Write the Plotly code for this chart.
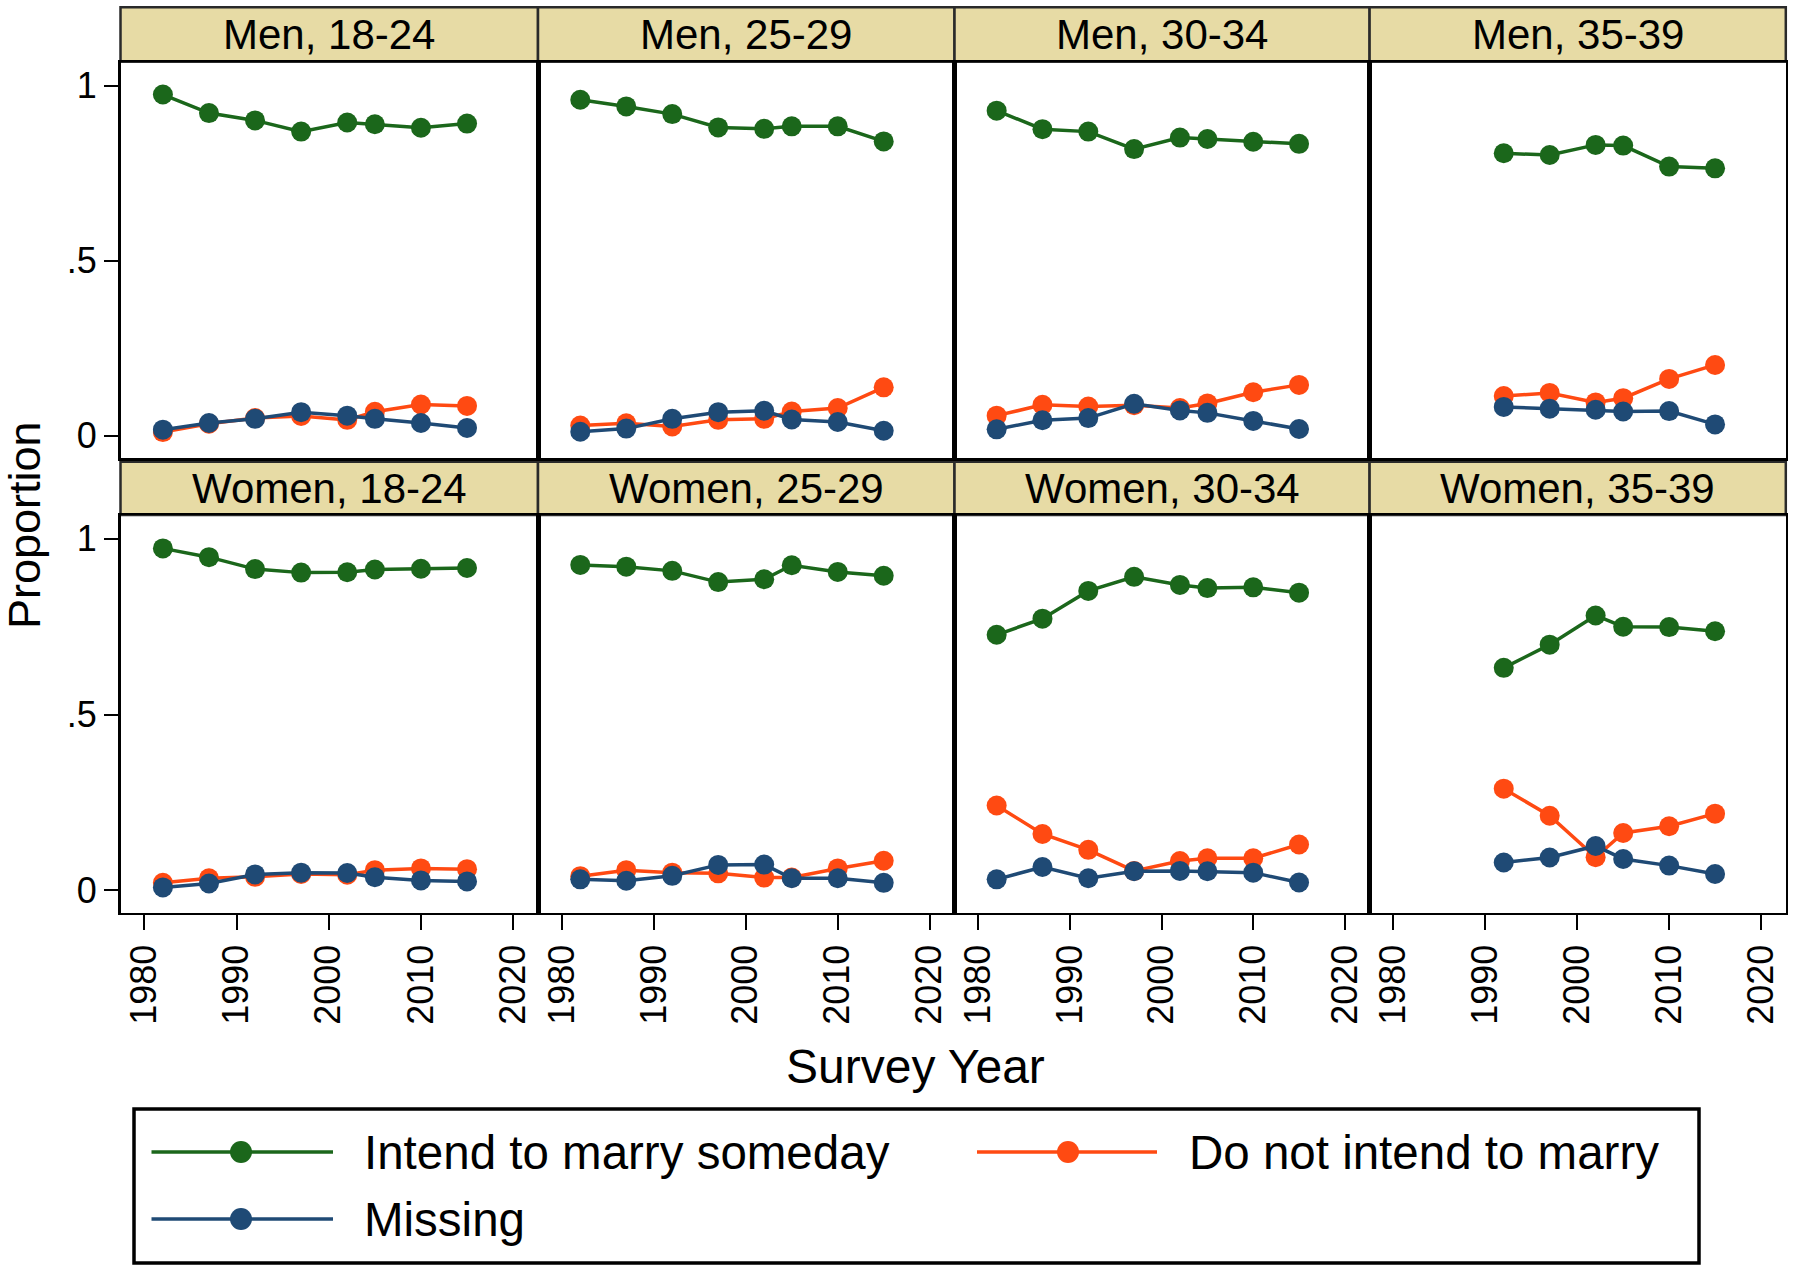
import plotly.graph_objects as go

W, H = 1800, 1270
FONT = "Liberation Sans, Arial, Helvetica, sans-serif"

years = [1982, 1987, 1992, 1997, 2002, 2005, 2010, 2015]
panel_titles = ["Men, 18-24", "Men, 25-29", "Men, 30-34", "Men, 35-39",
                "Women, 18-24", "Women, 25-29", "Women, 30-34", "Women, 35-39"]
series_names = ["Intend to marry someday", "Do not intend to marry", "Missing"]
series_colors = ["#1B671B", "#FF4A12", "#1F4A75"]

intend = [
    [0.975, 0.922, 0.901, 0.869, 0.895, 0.890, 0.880, 0.892],
    [0.960, 0.941, 0.919, 0.881, 0.877, 0.884, 0.884, 0.841],
    [0.929, 0.876, 0.869, 0.819, 0.852, 0.848, 0.840, 0.834],
    [None, None, 0.807, 0.802, 0.831, 0.829, 0.769, 0.764],
    [0.973, 0.948, 0.914, 0.904, 0.905, 0.913, 0.915, 0.917],
    [0.926, 0.921, 0.909, 0.877, 0.885, 0.925, 0.906, 0.895],
    [0.727, 0.773, 0.852, 0.892, 0.869, 0.860, 0.862, 0.847],
    [None, None, 0.633, 0.699, 0.782, 0.750, 0.749, 0.737],
]
not_intend = [
    [0.010, 0.034, 0.050, 0.056, 0.045, 0.068, 0.089, 0.085],
    [0.029, 0.035, 0.026, 0.045, 0.048, 0.069, 0.079, 0.138],
    [0.057, 0.088, 0.083, 0.087, 0.079, 0.092, 0.124, 0.145],
    [None, None, 0.113, 0.122, 0.095, 0.107, 0.162, 0.202],
    [0.021, 0.034, 0.038, 0.046, 0.044, 0.057, 0.062, 0.060],
    [0.040, 0.057, 0.050, 0.048, 0.036, 0.036, 0.062, 0.084],
    [0.241, 0.160, 0.115, 0.055, 0.083, 0.091, 0.091, 0.130],
    [None, None, 0.289, 0.212, 0.094, 0.163, 0.182, 0.218],
]
missing = [
    [0.017, 0.036, 0.048, 0.067, 0.057, 0.048, 0.036, 0.022],
    [0.011, 0.020, 0.048, 0.067, 0.071, 0.046, 0.039, 0.014],
    [0.018, 0.044, 0.050, 0.091, 0.072, 0.065, 0.042, 0.019],
    [None, None, 0.082, 0.077, 0.074, 0.069, 0.070, 0.032],
    [0.008, 0.019, 0.045, 0.050, 0.049, 0.037, 0.028, 0.025],
    [0.031, 0.027, 0.041, 0.072, 0.073, 0.034, 0.034, 0.021],
    [0.031, 0.066, 0.034, 0.054, 0.055, 0.054, 0.050, 0.022],
    [None, None, 0.079, 0.093, 0.126, 0.089, 0.070, 0.046],
]
x_ticks = [1980, 1990, 2000, 2010, 2020]
y_ticks = [0, 0.5, 1]
y_ticktext = ["0", ".5", "1"]

# ---- layout geometry (pixels) ----
col_px = [(120.5, 538.0), (538.0, 954.5), (954.5, 1369.6), (1369.6, 1785.8)]
row_plot_px = [(62.0, 458.0), (515.0, 912.7)]
row_strip_px = [(7.3, 61.7), (461.7, 515.0)]
XR = [1977.4, 2022.7]
YR = [-0.064, 1.068]

def fx(px):
    return px / W

def fy(py):
    return 1 - py / H

fig = go.Figure()
shapes = []
annotations = []
layout = {}

all_series = [intend, not_intend, missing]

for p in range(8):
    r, c = divmod(p, 4)
    idx = p + 1
    xa = "x" if idx == 1 else f"x{idx}"
    ya = "y" if idx == 1 else f"y{idx}"
    for s in range(3):
        fig.add_trace(go.Scatter(
            x=years, y=all_series[s][p], xaxis=xa, yaxis=ya,
            mode="lines+markers", name=series_names[s], showlegend=False,
            line=dict(color=series_colors[s], width=3.5),
            marker=dict(color=series_colors[s], size=20, line=dict(width=0)),
            connectgaps=False, cliponaxis=False,
        ))
    x0, x1 = col_px[c]
    y0, y1 = row_plot_px[r]
    xkey = "xaxis" if idx == 1 else f"xaxis{idx}"
    ykey = "yaxis" if idx == 1 else f"yaxis{idx}"
    bottom = (r == 1)
    left = (c == 0)
    layout[xkey] = dict(
        domain=[fx(x0), fx(x1)], range=XR, anchor=ya,
        showgrid=False, zeroline=False, showline=True, mirror=True,
        linecolor="black", linewidth=2.5,
        tickmode="array", tickvals=x_ticks if bottom else [],
        ticks="outside" if bottom else "", ticklen=15, tickwidth=2, tickcolor="black",
        tickangle=-90, showticklabels=bottom,
        tickfont=dict(family=FONT, size=36, color="black"),
    )
    layout[ykey] = dict(
        domain=[fy(y1), fy(y0)], range=YR, anchor=xa,
        showgrid=False, zeroline=False, showline=True, mirror=True,
        linecolor="black", linewidth=2.5,
        tickmode="array", tickvals=y_ticks if left else [], ticktext=y_ticktext,
        ticks="outside" if left else "", ticklen=14, tickwidth=2, tickcolor="black",
        showticklabels=left,
        tickfont=dict(family=FONT, size=36, color="black"),
    )
    # strip
    sy0, sy1 = row_strip_px[r]
    shapes.append(dict(type="rect", xref="paper", yref="paper",
                       x0=fx(x0), x1=fx(x1), y0=fy(sy1), y1=fy(sy0),
                       fillcolor="#E7DBA5", line=dict(color="#2a2a2a", width=2.5),
                       layer="below"))
    annotations.append(dict(text=panel_titles[p], xref="paper", yref="paper",
                            x=fx((x0 + x1) / 2), y=fy((sy0 + sy1) / 2),
                            xanchor="center", yanchor="middle", showarrow=False,
                            font=dict(family=FONT, size=42, color="black")))

# axis titles
annotations.append(dict(text="Survey Year", xref="paper", yref="paper",
                        x=fx(916), y=fy(1066), xanchor="center", yanchor="middle",
                        showarrow=False, font=dict(family=FONT, size=48, color="black")))
annotations.append(dict(text="Proportion", xref="paper", yref="paper",
                        x=fx(25), y=fy(525), xanchor="center", yanchor="middle",
                        textangle=-90, showarrow=False,
                        font=dict(family=FONT, size=45, color="black")))

# legend (manual)
shapes.append(dict(type="rect", xref="paper", yref="paper",
                   x0=fx(134), x1=fx(1699), y0=fy(1263), y1=fy(1109),
                   fillcolor="white", line=dict(color="black", width=3.5)))
leg_items = [(0, 151.5, 333, 241, 362, 1152),
             (1, 977, 1157, 1068, 1187, 1152),
             (2, 151.5, 333, 241, 362, 1219)]
rad = 11
for s, lx0, lx1, mx, tx, ly in leg_items:
    shapes.append(dict(type="line", xref="paper", yref="paper",
                       x0=fx(lx0), x1=fx(lx1), y0=fy(ly), y1=fy(ly),
                       line=dict(color=series_colors[s], width=3.5)))
    shapes.append(dict(type="circle", xref="paper", yref="paper",
                       x0=fx(mx - rad), x1=fx(mx + rad), y0=fy(ly + rad), y1=fy(ly - rad),
                       fillcolor=series_colors[s], line=dict(width=0)))
    annotations.append(dict(text=series_names[s], xref="paper", yref="paper",
                            x=fx(tx), y=fy(ly), xanchor="left", yanchor="middle",
                            showarrow=False, font=dict(family=FONT, size=47.5, color="black")))

fig.update_layout(
    width=W, height=H, margin=dict(l=0, r=0, t=0, b=0),
    paper_bgcolor="white", plot_bgcolor="white",
    showlegend=False, shapes=shapes, annotations=annotations,
    hovermode=False,
    **layout,
)

fig.write_html("out.html",
               config={"displayModeBar": False, "staticPlot": True},
               post_script="document.body.style.margin='0';document.body.style.overflow='hidden';")
